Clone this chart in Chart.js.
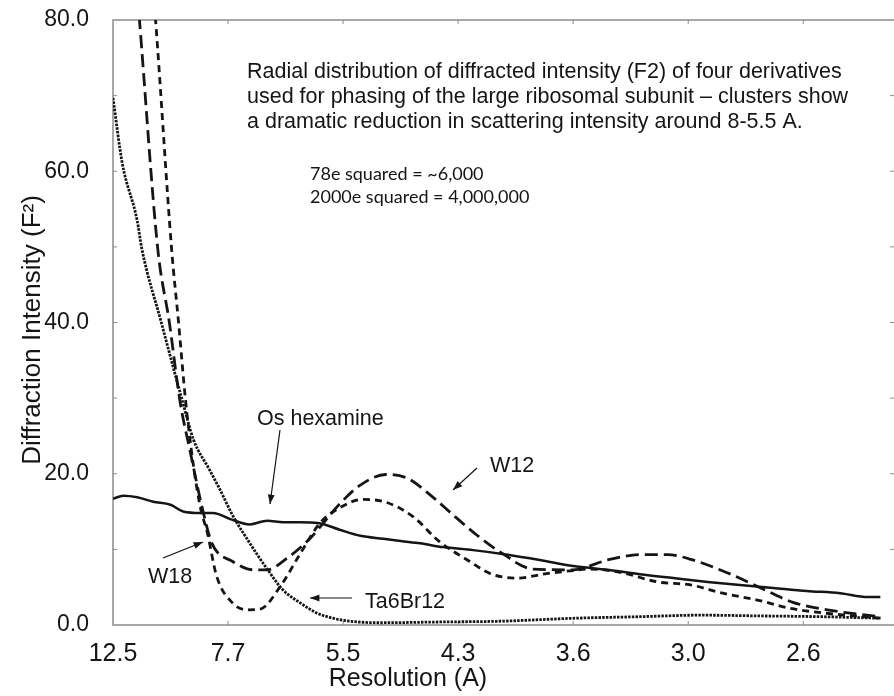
<!DOCTYPE html>
<html>
<head>
<meta charset="utf-8">
<title>Radial distribution of diffracted intensity</title>
<script src="https://cdn.jsdelivr.net/npm/chart.js@4.4.1/dist/chart.umd.min.js"></script>
<style>
    body { margin: 0; background: #fff; }
    #wrap { width: 894px; height: 696px; }
</style>
</head>
<body>
<div id="wrap"><canvas id="diffChart" width="894" height="696"></canvas></div>
<script>
// resolution bins (A) shown on the x axis, one per tick
const resLabels = ["12.5", "7.7", "5.5", "4.3", "3.6", "3.0", "2.6"];
const yTicks = [0, 20, 40, 60, 80];

// Os hexamine - solid
const osX = [0, 0.09, 0.21, 0.35, 0.50, 0.61, 0.76, 0.87, 1.02, 1.19, 1.34, 1.48, 1.63, 1.78, 1.97, 2.15, 2.35, 2.50, 2.67, 2.87, 3.13, 3.43, 3.71, 4.00, 4.30, 4.58, 4.87, 5.17, 5.45, 5.74, 6.03, 6.32, 6.56, 6.67];
const osY = [16.7, 17.1, 16.9, 16.3, 15.9, 15.0, 14.8, 14.8, 14.0, 13.3, 13.8, 13.6, 13.6, 13.5, 12.6, 11.8, 11.4, 11.1, 10.8, 10.3, 9.9, 9.3, 8.6, 7.8, 7.3, 6.7, 6.2, 5.7, 5.3, 4.9, 4.5, 4.2, 3.7, 3.7];

// Ta6Br12 - dotted
const taX = [0, 0.08, 0.21, 0.25, 0.42, 0.60, 0.70, 0.84, 0.93, 1.04, 1.19, 1.34, 1.48, 1.63, 1.77, 1.91, 2.06, 2.32, 2.84, 3.37, 4.02, 4.58, 5.10, 5.63, 6.15, 6.67];
const taY = [69.7, 61.1, 53.5, 49.8, 40.0, 29.8, 24.5, 20.5, 17.9, 14.5, 10.8, 7.4, 4.6, 2.9, 1.6, 0.9, 0.5, 0.3, 0.4, 0.5, 0.9, 1.1, 1.3, 1.2, 1.1, 0.9];

// W12 - long dashes
const w12X = [0.16, 0.23, 0.39, 0.49, 0.58, 0.67, 0.78, 0.86, 1.04, 1.22, 1.34, 1.51, 1.71, 1.83, 1.97, 2.15, 2.37, 2.56, 2.78, 2.96, 3.17, 3.37, 3.65, 4.00, 4.30, 4.58, 4.82, 5.04, 5.34, 5.63, 5.91, 6.21, 6.67];
const w12Y = [93, 80, 49.6, 40, 29.8, 23, 15.2, 10.8, 8.4, 7.3, 7.3, 8.8, 11.4, 13.5, 16.0, 18.5, 19.9, 19.4, 16.9, 14.5, 11.8, 9.6, 7.4, 7.3, 8.6, 9.3, 9.3, 8.6, 6.9, 4.9, 3.0, 2.0, 1.1];

// W18 - short dashes
const w18X = [0.30, 0.37, 0.51, 0.57, 0.63, 0.70, 0.76, 0.82, 0.90, 1.04, 1.17, 1.28, 1.45, 1.63, 1.80, 1.97, 2.17, 2.38, 2.61, 2.84, 3.08, 3.28, 3.51, 3.77, 4.00, 4.15, 4.43, 4.73, 5.02, 5.30, 5.60, 5.89, 6.17, 6.67];
const w18Y = [93, 80, 49.6, 40, 29.8, 21, 15.5, 12.2, 6.5, 2.9, 2.0, 2.1, 5.0, 9.5, 13.5, 15.5, 16.6, 16.2, 14.3, 11.0, 8.6, 6.8, 6.2, 6.8, 7.2, 7.4, 6.9, 5.7, 5.3, 4.2, 3.3, 2.2, 1.6, 0.9];

const ink = "#151515";
const frameColor = "#8c8c8c";

function pts(xs, ys) {
    return xs.map((x, i) => ({ x: x, y: ys[i] }));
}

function line(label, xs, ys, dash, width) {
    return {
        label,
        data: pts(xs, ys),
        borderColor: ink,
        borderWidth: width,
        borderDash: dash,
        pointRadius: 0,
        fill: false,
        cubicInterpolationMode: "monotone"
    };
}

function arrow(ctx, x1, y1, x2, y2) {
    const a = Math.atan2(y2 - y1, x2 - x1);
    ctx.beginPath();
    ctx.moveTo(x1, y1);
    ctx.lineTo(x2, y2);
    ctx.stroke();
    ctx.beginPath();
    ctx.moveTo(x2, y2);
    ctx.lineTo(x2 - 10 * Math.cos(a - 0.35), y2 - 10 * Math.sin(a - 0.35));
    ctx.lineTo(x2 - 10 * Math.cos(a + 0.35), y2 - 10 * Math.sin(a + 0.35));
    ctx.closePath();
    ctx.fill();
}

//frame (top, left, bottom) with inward tick marks
const framePlugin = {
    id: "frame",
    beforeDatasetsDraw(chart) {
        const { ctx, chartArea: a, scales } = chart;
        ctx.save();
        ctx.strokeStyle = frameColor;
        ctx.lineWidth = 1.5;
        ctx.beginPath();
        ctx.moveTo(chart.width, a.top);
        ctx.lineTo(a.left, a.top);
        ctx.lineTo(a.left, a.bottom);
        ctx.lineTo(chart.width, a.bottom);
        ctx.stroke();
        ctx.lineWidth = 1;
        for (let v = 10; v < 80; v += 10) {
            const y = scales.y.getPixelForValue(v);
            ctx.beginPath();
            ctx.moveTo(a.left, y); ctx.lineTo(a.left + 4, y);
            ctx.moveTo(a.right + 1, y); ctx.lineTo(a.right - 3, y);
            ctx.stroke();
        }
        for (let i = 1; i < resLabels.length; i++) {
            const x = scales.x.getPixelForValue(i);
            ctx.beginPath();
            ctx.moveTo(x, a.bottom); ctx.lineTo(x, a.bottom - 4);
            ctx.moveTo(x, a.top); ctx.lineTo(x, a.top + 4);
            ctx.stroke();
        }
        ctx.restore();
    }
};

//titles, notes and labelled arrows
const notesPlugin = {
    id: "notes",
    afterDraw(chart) {
        const ctx = chart.ctx;
        ctx.save();
        ctx.fillStyle = ink;
        ctx.strokeStyle = ink;
        ctx.textBaseline = "alphabetic";

        ctx.font = "25px 'Liberation Sans', Arial, sans-serif";
        ctx.textAlign = "center";
        ctx.fillText("Resolution (A)", 408, 686);
        ctx.save();
        ctx.translate(40, 330);
        ctx.rotate(-Math.PI / 2);
        ctx.font = "26px 'Liberation Sans', Arial, sans-serif";
        ctx.fillText("Diffraction Intensity (F\u00B2)", 0, 0);
        ctx.restore();

        ctx.textAlign = "left";
        ctx.font = "21.5px 'Liberation Sans', Arial, sans-serif";
        ctx.fillText("Radial distribution of diffracted intensity (F2) of four derivatives", 247, 78);
        ctx.fillText("used for phasing of the large ribosomal subunit \u2013 clusters show", 247, 103);
        ctx.fillText("a dramatic reduction in scattering intensity around 8-5.5 A.", 247, 128);

        ctx.font = "18px Lato, 'Open Sans', sans-serif";
        ctx.fillText("78e squared = ~6,000", 310, 180);
        ctx.fillText("2000e squared = 4,000,000", 310, 203);

        ctx.font = "21.5px 'Liberation Sans', Arial, sans-serif";
        ctx.fillText("Os hexamine", 257, 425);
        ctx.fillText("W12", 490, 472);
        ctx.fillText("W18", 148, 583);
        ctx.fillText("Ta6Br12", 365, 608);

        ctx.lineWidth = 1.2;
        arrow(ctx, 280, 430, 270, 504);
        arrow(ctx, 477, 468, 453, 490);
        arrow(ctx, 163, 558, 203, 542);
        arrow(ctx, 352, 598, 310, 598);
        ctx.restore();
    }
};

new Chart(document.getElementById("diffChart"), {
    type: "line",
    data: {
        datasets: [
            line("Os hexamine", osX, osY, [], 2.5),
            line("Ta6Br12", taX, taY, [2.5, 1.2], 2.8),
            line("W12", w12X, w12Y, [13, 6], 2.8),
            line("W18", w18X, w18Y, [7, 5], 2.8)
        ]
    },
    options: {
        responsive: false,
        animation: false,
        layout: { padding: { top: 20, right: 1, left: 0, bottom: 0 } },
        plugins: { legend: { display: false }, tooltip: { enabled: false } },
        scales: {
            x: {
                type: "linear",
                min: 0,
                max: 6.78,
                grid: { display: false },
                border: { display: false },
                afterBuildTicks: scale => {
                    scale.ticks = resLabels.map((_, i) => ({ value: i }));
                },
                afterFit: scale => {
                    scale.height = 71;
                    scale.paddingLeft = 0;
                    scale.paddingRight = 0;
                },
                ticks: {
                    autoSkip: false,
                    maxRotation: 0,
                    padding: 6,
                    color: ink,
                    font: { family: "'Liberation Sans', Arial, sans-serif", size: 25 },
                    callback: v => resLabels[v] ?? ""
                }
            },
            y: {
                min: 0,
                max: 80,
                grid: { display: false },
                border: { display: false },
                afterBuildTicks: scale => {
                    scale.ticks = yTicks.map(v => ({ value: v }));
                },
                afterFit: scale => {
                    scale.width = 113;
                    scale.paddingTop = 0;
                    scale.paddingBottom = 0;
                },
                ticks: {
                    padding: 16,
                    color: ink,
                    font: { family: "'Liberation Sans', Arial, sans-serif", size: 23 },
                    callback: v => v.toFixed(1)
                }
            }
        }
    },
    plugins: [framePlugin, notesPlugin]
});
</script>
</body>
</html>
